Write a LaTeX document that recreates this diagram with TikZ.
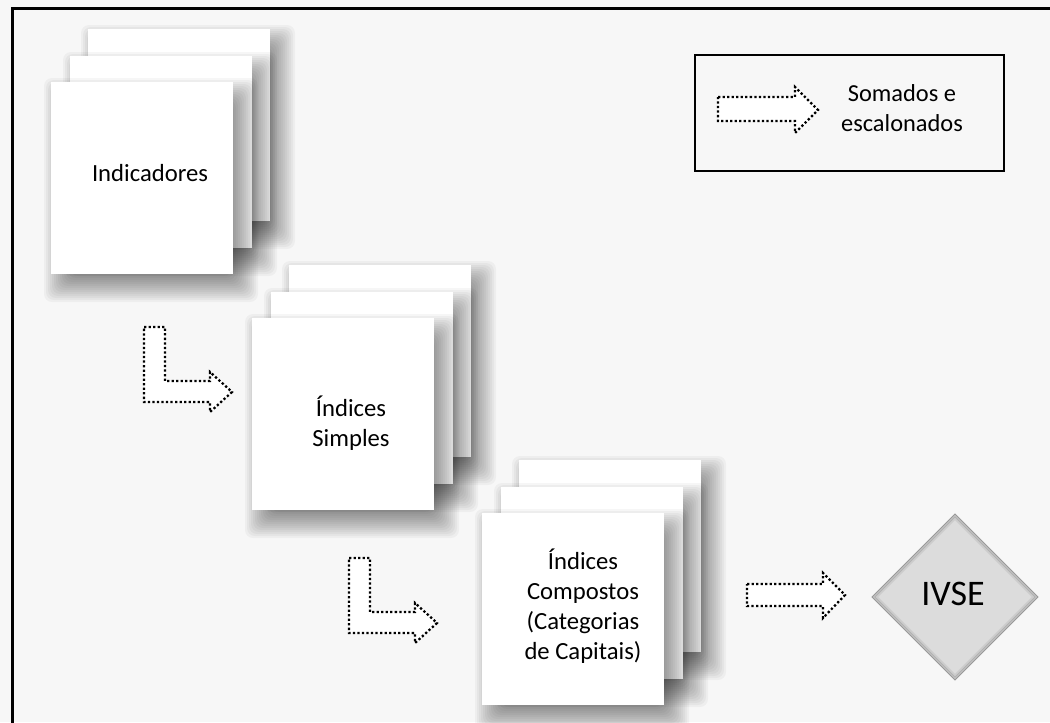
\documentclass[tikz,border=0pt]{standalone}
\usepackage{fontspec}
\setmainfont{Carlito}
\usetikzlibrary{shapes.geometric}
\definecolor{bgc}{HTML}{F7F7F7}
\definecolor{dia}{HTML}{DCDCDC}
\tikzset{
  sheet/.style={draw=none, fill=white, anchor=north west, minimum width=136.5pt, minimum height=144pt, inner sep=0pt},
  shadowlayer/.style={fill=black, opacity=0.036, rounded corners=6pt},
  lbl/.style={align=center, inner sep=0pt, font=\fontsize{18.5}{22.5}\selectfont},
  blockarrow/.style={draw=black, fill=white, line width=1.7pt, dash pattern=on 1.7pt off 1.7pt, line join=miter},
}
% soft shadow of a 182x192 sheet whose top left corner is (#1,#2)
\newcommand\softshade[2]{%
  \foreach \r in {-16,-14,...,16}{%
    \fill[shadowlayer] (#1+9-\r*1, #2+12-\r*1) rectangle (#1+191+\r*1, #2+204+\r*1);
  }%
}
\begin{document}
\begin{tikzpicture}[x=0.75pt,y=-0.75pt]
\clip (0,0) rectangle (1050,722);
\fill[bgc] (0,0) rectangle (1050,722);
\draw[line width=2.3pt] (12.5,740) -- (12.5,8.8) -- (1060,8.8);

% stack 1
\softshade{88}{29}
\node[sheet] (s1c) at (88,29) {};
\softshade{70}{56}
\node[sheet] (s1b) at (70,56) {};
\softshade{51}{82}
\node[sheet] (s1a) at (51,82) {};
\node[lbl] (t1) at (150,173) {Indicadores};

% stack 2
\softshade{289}{265}
\node[sheet] (s2c) at (289,265) {};
\softshade{271}{292}
\node[sheet] (s2b) at (271,292) {};
\softshade{252}{318}
\node[sheet] (s2a) at (252,318) {};
\node[lbl] (t2) at (351,423) {Índices\\Simples};

% stack 3
\softshade{519}{460}
\node[sheet] (s3c) at (519,460) {};
\softshade{501}{487}
\node[sheet] (s3b) at (501,487) {};
\softshade{482}{513}
\node[sheet] (s3a) at (482,513) {};
\node[lbl] (t3) at (583,606) {Índices\\Compostos\\(Categorias\\de Capitais)};

% bent arrow 1
\draw[blockarrow] (144,327) -- (165,327) -- (165,381) -- (210,381) -- (210,372) -- (232,392) -- (210,412) -- (210,402) -- (144,402) -- cycle;
% bent arrow 2
\begin{scope}[shift={(205,231)}]
\draw[blockarrow] (144,327) -- (165,327) -- (165,381) -- (210,381) -- (210,372) -- (232,392) -- (210,412) -- (210,402) -- (144,402) -- cycle;
\end{scope}
% arrow to IVSE
\draw[blockarrow] (747,584) -- (823,584) -- (823,573) -- (845,595) -- (823,618) -- (823,606) -- (747,606) -- cycle;

% diamond
\node[diamond, aspect=1, minimum width=124.5pt, minimum height=124.5pt, inner sep=0pt, fill=dia, draw=gray!80, line width=0.8pt] (ivse) at (955,597) {};
\draw[gray!60, line width=1.2pt] (955,517) -- (1035,597) -- (955,677) -- (875,597) -- cycle;
\draw[gray!40, line width=1.2pt] (955,519) -- (1033,597) -- (955,675) -- (877,597) -- cycle;
\node[font=\fontsize{27}{30}\selectfont, inner sep=0pt] (ivset) at (953,594) {IVSE};

% legend
\node[draw=black, line width=1.6pt, anchor=north west, minimum width=231.75pt, minimum height=87pt, inner sep=0pt] (leg) at (694,54) {};
\draw[blockarrow] (718,97) -- (795,97) -- (795,87) -- (818,110) -- (795,133) -- (795,121) -- (718,121) -- cycle;
\node[lbl, font=\fontsize{18.3}{22}\selectfont] (legt) at (902,108) {Somados e\\escalonados};
\end{tikzpicture}
\end{document}
